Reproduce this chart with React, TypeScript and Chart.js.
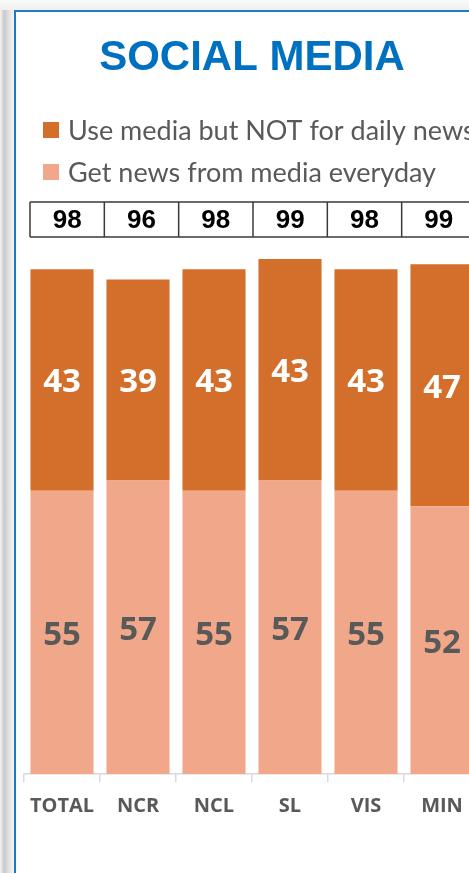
import React, { useEffect, useRef } from "react";
import { Chart, registerables } from "chart.js";

Chart.register(...registerables);

const categories = ["TOTAL", "NCR", "NCL", "SL", "VIS", "MIN"];
const notDailyNews = [43, 39, 43, 43, 43, 47];
const dailyNews = [55, 57, 55, 57, 55, 52];
const totals = [98, 96, 98, 99, 98, 99];
const seriesNames = ["Use media but NOT for daily news", "Get news from media everyday"];
const titleText = "SOCIAL MEDIA";

const DARK = "#D36F2B";
const LIGHT = "#F1A88A";
const GRAY = "#595959";

const overlayPlugin = {
  id: "overlay",
  afterDraw(chart: any) {
    const ctx = chart.ctx;
    const area = chart.chartArea;
    ctx.save();
    // title
    ctx.fillStyle = "#0070C0";
    ctx.font = "bold 42px 'Liberation Sans', Arial, sans-serif";
    ctx.textAlign = "center";
    ctx.textBaseline = "middle";
    ctx.fillText(titleText, (area.left + area.right) / 2, 58);

    // legend
    const legendColors = [DARK, LIGHT];
    const legendY = [130, 172];
    ctx.textAlign = "left";
    ctx.font = "27px Lato, sans-serif";
    for (let i = 0; i < seriesNames.length; i++) {
      ctx.fillStyle = legendColors[i];
      ctx.fillRect(43, legendY[i] - 8, 16, 16);
      ctx.fillStyle = GRAY;
      ctx.fillText(seriesNames[i], 68, legendY[i] + 1);
    }

    // totals table
    const tLeft = area.left + 6;
    const cellW = (area.right - area.left - 10) / totals.length;
    const tTop = 202;
    const tBot = 237;
    ctx.strokeStyle = "#3A3A3A";
    ctx.lineWidth = 1.5;
    ctx.beginPath();
    ctx.moveTo(tLeft, tTop);
    ctx.lineTo(tLeft + cellW * totals.length, tTop);
    ctx.moveTo(tLeft, tBot);
    ctx.lineTo(tLeft + cellW * totals.length, tBot);
    for (let i = 0; i <= totals.length; i++) {
      ctx.moveTo(tLeft + cellW * i, tTop);
      ctx.lineTo(tLeft + cellW * i, tBot);
    }
    ctx.stroke();
    ctx.fillStyle = "#000000";
    ctx.textAlign = "center";
    ctx.font = "bold 26px 'Liberation Sans', Arial, sans-serif";
    totals.forEach((v, i) => {
      ctx.fillText(String(v), tLeft + cellW * (i + 0.5), (tTop + tBot) / 2 + 1);
    });

    // data labels
    ctx.font = "bold 33px 'Open Sans', sans-serif";
    chart.data.datasets.forEach((ds: any, di: number) => {
      const meta = chart.getDatasetMeta(di);
      ctx.fillStyle = di === 0 ? GRAY : "#FFFFFF";
      meta.data.forEach((bar: any, i: number) => {
        const y = (bar.y + bar.base) / 2;
        ctx.fillText(String(ds.data[i]), bar.x, y + 3);
      });
    });
    ctx.restore();
  },
};

export default function App() {
  const ref = useRef<HTMLCanvasElement>(null);
  useEffect(() => {
    if (!ref.current) return;
    const chart = new Chart(ref.current, {
      type: "bar",
      data: {
        labels: categories,
        datasets: [
          { label: seriesNames[1], data: dailyNews, backgroundColor: LIGHT, stack: "s" },
          { label: seriesNames[0], data: notDailyNews, backgroundColor: DARK, stack: "s" },
        ],
      },
      options: {
        responsive: false,
        animation: false,
        devicePixelRatio: 1,
        layout: { padding: { left: 24, right: 11, top: 259, bottom: 39 } },
        plugins: { legend: { display: false }, title: { display: false }, tooltip: { enabled: false } },
        datasets: { bar: { categoryPercentage: 1, barPercentage: 0.83 } },
        scales: {
          x: {
            stacked: true,
            offset: true,
            afterFit: (s: any) => {
              s.height = 60;
            },
            grid: {
              display: true,
              drawOnChartArea: false,
              drawTicks: true,
              tickLength: 8,
              color: "#D9D9D9",
              lineWidth: 1.5,
            },
            border: { display: true, color: "#D9D9D9", width: 1.5 },
            ticks: {
              color: GRAY,
              padding: 12,
              font: { family: "'Open Sans', sans-serif", size: 20, weight: "bold" },
              maxRotation: 0,
              autoSkip: false,
            },
          },
          y: { stacked: true, display: false, min: 0, max: 100 },
        },
      },
      plugins: [overlayPlugin],
    });
    return () => chart.destroy();
  }, []);

  return (
    <div style={{ position: "fixed", left: 0, top: 0, width: 469, height: 873, overflow: "hidden", background: "#fff" }}>
      <div style={{ position: "absolute", left: 0, top: 0, width: 14, height: 873, background: "linear-gradient(to right, #f4f4f4, #c9c9c9 30%, #e6e6e6 70%, #f6f6f6)" }} />
      <div style={{ position: "absolute", left: 0, top: 0, width: 469, height: 10, background: "linear-gradient(to bottom, #fafafa, #f0f0f0)" }} />
      <canvas ref={ref} width={491} height={873} style={{ position: "absolute", left: 0, top: 0 }} />
      <div style={{ position: "absolute", left: 14, top: 10, width: 2, height: 863, background: "#1F78C8" }} />
      <div style={{ position: "absolute", left: 14, top: 10, width: 455, height: 2, background: "#1F78C8" }} />
    </div>
  );
}
